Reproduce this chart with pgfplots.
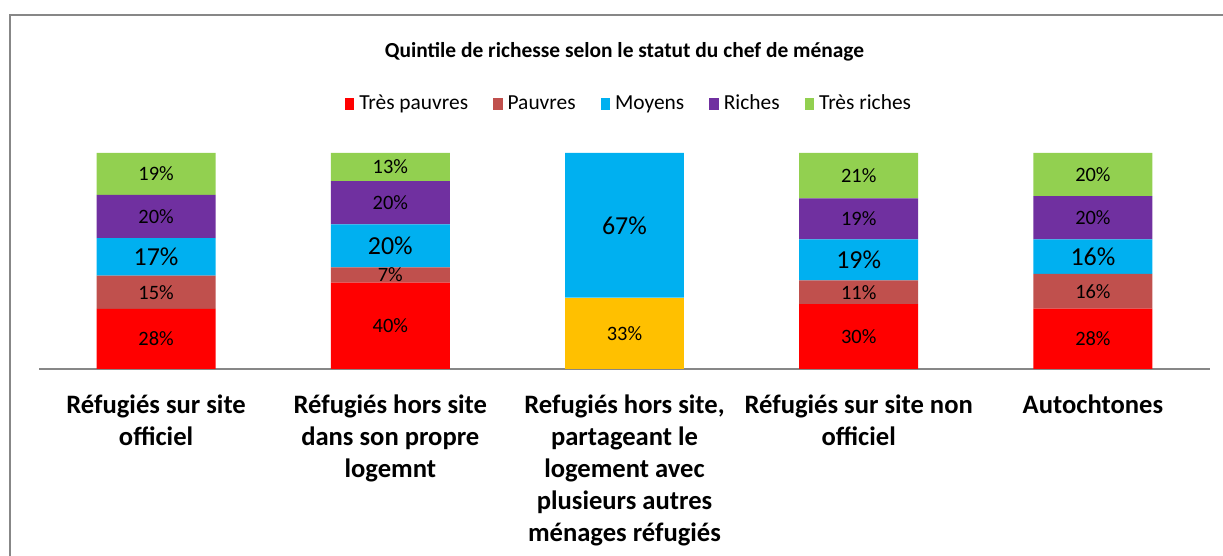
\documentclass[border=0pt]{standalone}
\usepackage{pgfplots}
\pgfplotsset{compat=1.18}
\usepackage{fontspec}
\setmainfont{Carlito}
\definecolor{tp}{HTML}{FF0000}
\definecolor{pa}{HTML}{C0504D}
\definecolor{mo}{HTML}{00B0F0}
\definecolor{ri}{HTML}{7030A0}
\definecolor{tr}{HTML}{92D050}
\definecolor{orng}{HTML}{FFC000}
\definecolor{axgray}{HTML}{878787}
\pgfplotsset{
  sq/.style={legend image code/.code={\fill[##1,draw=none] (0bp,-5bp) rectangle (9.5bp,7bp);}},
}
\begin{document}
\begin{tikzpicture}
\begin{axis}[
  at={(39bp,187bp)}, anchor=south west,
  scale only axis, width=1171bp, height=216bp,
  xmin=-0.5, xmax=4.5, ymin=0, ymax=100,
  ybar stacked, bar width=0.508,
  axis y line=none,
  axis x line*=bottom,
  x axis line style={draw=axgray, line width=2bp, -},
  xtick={0,1,2,3,4},
  major tick length=0pt,
  xticklabels={{Réfugiés sur site\\officiel},
               {Réfugiés hors site\\dans son propre\\logemnt},
               {Refugiés hors site,\\partageant le\\logement avec\\plusieurs autres\\ménages réfugiés},
               {Réfugiés sur site non\\officiel},
               {Autochtones}},
  xticklabel style={font=\bfseries\fontsize{26.7}{32.3}\selectfont, align=center, anchor=north, yshift=-22bp},
  /pgf/number format/assume math mode=true,
  nodes near coords={\pgfmathfloatifflags{\pgfplotspointmeta}{0}{}{\pgfmathprintnumber[fixed,precision=0,assume math mode=true]{\pgfplotspointmeta}\%}},
  every node near coord/.append style={anchor=center, font=\fontsize{20.5}{24}\selectfont, text=black},
  legend columns=5,
  legend style={at={(axis description cs:0.5038,1.222)}, anchor=center, draw=none, fill=none,
    font=\fontsize{21.5}{24}\selectfont,
    nodes={text depth=5bp, text height=14bp},
    /tikz/every even column/.append style={column sep=23bp},
    /tikz/every odd column/.append style={column sep=3bp}},
  clip=false,
]
\addplot[fill=orng, draw=none, forget plot] coordinates {(0,0) (1,0) (2,33) (3,0) (4,0)};
\addplot[fill=tp, draw=none, sq] coordinates {(0,27.8) (1,40) (2,0) (3,30) (4,28)};
\addlegendentry{Très pauvres}
\addplot[fill=pa, draw=none, sq] coordinates {(0,15.4) (1,7) (2,0) (3,11) (4,16)};
\addlegendentry{Pauvres}
\addplot[fill=mo, draw=none, sq, every node near coord/.append style={font=\fontsize{26}{30}\selectfont}] coordinates {(0,17.4) (1,20) (2,67) (3,19) (4,16)};
\addlegendentry{Moyens}
\addplot[fill=ri, draw=none, sq] coordinates {(0,20.0) (1,20) (2,0) (3,19) (4,20)};
\addlegendentry{Riches}
\addplot[fill=tr, draw=none, sq] coordinates {(0,19.4) (1,13) (2,0) (3,21) (4,20)};
\addlegendentry{Très riches}
\end{axis}
\node[font=\bfseries\fontsize{21.5}{24}\selectfont, anchor=base] at (624.5bp,498bp) {Quintile de richesse selon le statut du chef de ménage};
\draw[axgray, line width=2bp] (9.5bp,0bp) -- (9.5bp,540.5bp) -- (1223bp,540.5bp);
\pgfresetboundingbox
\path[use as bounding box] (0,0) rectangle (1223bp,556bp);
\end{tikzpicture}
\end{document}
